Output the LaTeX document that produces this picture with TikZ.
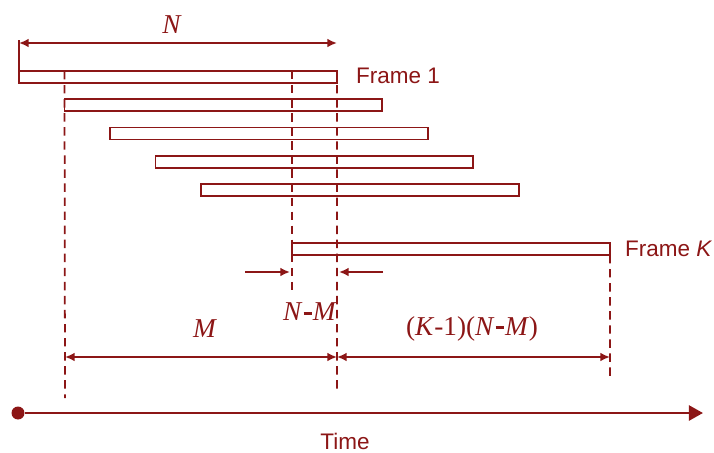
\documentclass[tikz,border=0pt]{standalone}
\usepackage{fontspec}
\setmainfont{Liberation Serif}
\newfontfamily\sanslabel{Liberation Sans}
\usetikzlibrary{arrows.meta}
\definecolor{framered}{RGB}{140,22,22}
\newcommand{\heavydash}{\kern0.04em\rule[0.23em]{0.3em}{0.11em}\kern0.04em}

\tikzset{
  frame/.style={draw=framered, line width=1.1pt, minimum width=6.36cm, minimum height=0.24cm,
    inner sep=0pt, outer sep=0pt, anchor=north west},
  guide/.style={draw=framered, line width=1pt, dash pattern=on 4.8pt off 3.2pt},
  dimline/.style={draw=framered, line width=1.1pt, {Latex[length=5.5pt,width=5pt]}-{Latex[length=5.5pt,width=5pt]}},
  gapline/.style={draw=framered, line width=1.1pt, -{Latex[length=5.5pt,width=5pt]}},
  mathlbl/.style={text=framered, font=\fontsize{15.5}{17}\selectfont, inner sep=1pt},
  namelbl/.style={text=framered, font=\sanslabel\fontsize{12.8}{14}\selectfont, inner sep=1pt}
}

\begin{document}
\begin{tikzpicture}[x=0.02cm, y=-0.02cm]
        \useasboundingbox (0,0) rectangle (714,453);

        % Overlapping frames
        \foreach \i in {1,...,5}
            \node[frame] (f\i) at ({19+(\i-1)*45.5},{71+(\i-1)*28.25}) {};
        \node[frame] (fK) at (292,243) {};

        \node[namelbl, anchor=west] (lbl1) at (354,76) {Frame 1};
        \node[namelbl, anchor=west] (lblK) at (623,249) {Frame \textit{K}};

        % Frame length N
        \coordinate (nL) at (19,43);
        \coordinate (nR) at (337,43);
        \coordinate (nTop) at (19,40);
        \draw[framered, line width=1.1pt] (f1.north west) -- (nTop);
        \draw[dimline] (nL) -- (nR);
        \node[mathlbl] (lblN) at (172,25) {\textit{N}};

        % Guide lines
        \coordinate (g1) at (65,398);
        \coordinate (g2) at (292,290);
        \coordinate (g3) at (337,392);
        \coordinate (g4) at (610,378);
        \draw[guide] (f1.north -| f2.north west) -- (g1);
        \draw[guide] (f1.north -| fK.north west) -- (g2);
        \draw[guide] (f1.north east) -- (g3);
        \draw[guide] (fK.south east) -- (g4);

        % Frame shift N-M
        \coordinate (sA) at (245,272);
        \coordinate (sB) at (290,272);
        \coordinate (sC) at (383,272);
        \coordinate (sD) at (339,272);
        \draw[gapline] (sA) -- (sB);
        \draw[gapline] (sC) -- (sD);
        \node[mathlbl] (lblNM) at (310,312) {\textit{N}\heavydash\textit{M}};

        % M and (K-1)(N-M)
        \coordinate (mL) at (65,357);
        \coordinate (mR) at (337,357);
        \coordinate (kR) at (610,357);
        \draw[dimline] (mL) -- (mR);
        \draw[dimline] (mR) -- (kR);
        \node[mathlbl] (lblM) at (205,329) {\textit{M}};
        \node[mathlbl] (lblK) at (472,329) {(\textit{K}-1)(\textit{N}\heavydash\textit{M})};

        % Time axis
        \node[circle, fill=framered, minimum size=0.26cm, inner sep=0pt] (t0) at (18,413) {};
        \coordinate (t1) at (703,413);
        \draw[framered, line width=1.5pt, -{Triangle[length=8pt,width=8.5pt]}] (t0) -- (t1);
        \node[namelbl] (lblT) at (345,441) {Time};
    \end{tikzpicture}
\end{document}
